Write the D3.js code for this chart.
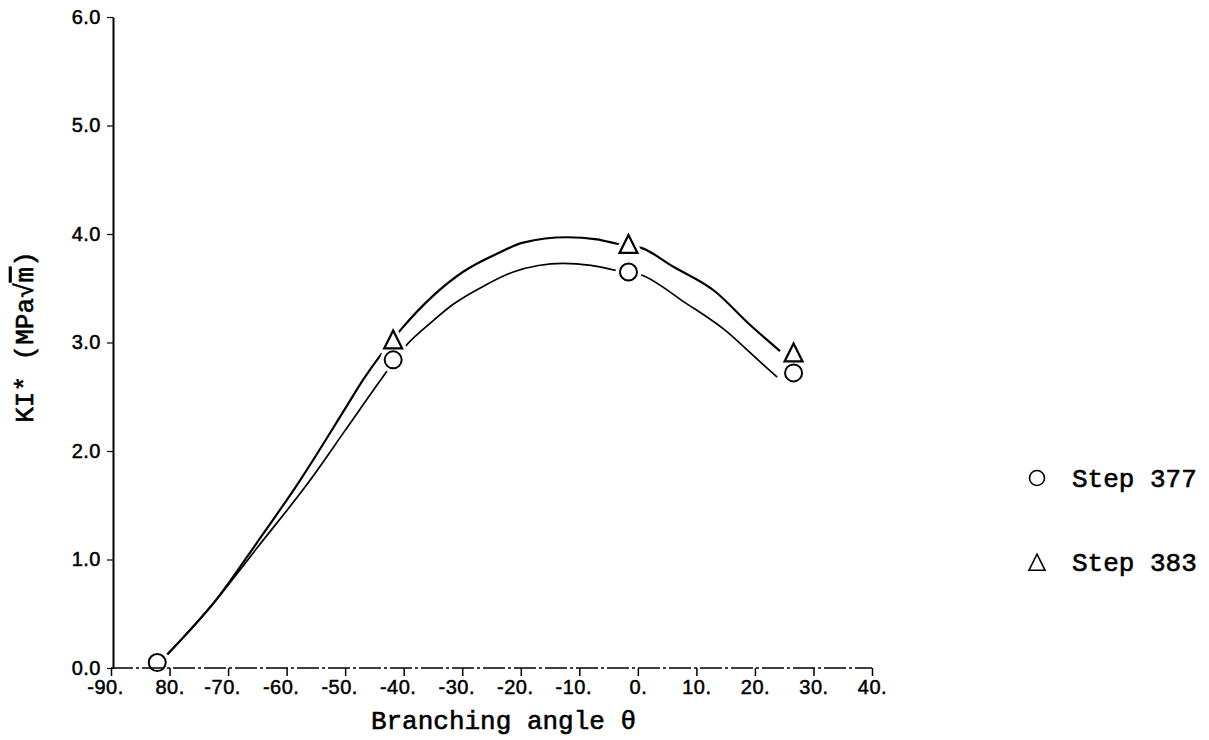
<!DOCTYPE html>
<html>
<head>
<meta charset="utf-8">
<script src="https://cdn.jsdelivr.net/npm/d3@7"></script>
<style>
  html, body { margin: 0; padding: 0; background: #fff; }
  svg { display: block; }
</style>
</head>
<body>
<svg id="chart" width="1209" height="740"></svg>
<script>
// ---- Data ----
const xTicks = [-90, -80, -70, -60, -50, -40, -30, -20, -10, 0, 10, 20, 30, 40];
const xTickLabels = ["-90.", "80.", "-70.", "-60.", "-50.", "-40.", "-30.", "-20.", "-10.", "0.", "10.", "20.", "30.", "40."];
const yTicks = [0, 1, 2, 3, 4, 5, 6];
const yTickLabels = ["0.0", "1.0", "2.0", "3.0", "4.0", "5.0", "6.0"];

// Fitted curves
const curveTheta383 = [-80.5, -72, -65, -57.7, -50, -47, -40.3, -35, -29.9, -24, -19.6, -12.1, -7, -3.6, 0.7, 6, 13.2, 19, 24.3];
const curveKI383    = [0.12, 0.63, 1.16, 1.73, 2.39, 2.65, 3.13, 3.43, 3.65, 3.82, 3.92, 3.97, 3.95, 3.91, 3.87, 3.70, 3.47, 3.17, 2.92];
const curveTheta377 = [-80.4, -72, -65, -56, -50, -44, -39.8, -35, -31.6, -26, -21.3, -17, -12.8, -8, -4.2, 0.7, 8, 15.2, 19.5, 23.8];
const curveKI377    = [0.12, 0.63, 1.11, 1.73, 2.19, 2.65, 2.96, 3.20, 3.35, 3.53, 3.65, 3.71, 3.73, 3.71, 3.67, 3.62, 3.37, 3.10, 2.89, 2.68];

// Data points (markers)
const pointTheta377 = [-82.1, -41.8, -1.6, 26.6];
const pointKI377    = [0.05, 2.84, 3.65, 2.72];
const pointTheta383 = [-41.8, -1.6, 26.6];
const pointKI383    = [3.02, 3.90, 2.90];

const legendLabels = ["Step 377", "Step 383"];

// ---- Layout ----
const svg = d3.select("#chart");
const x = d3.scaleLinear().domain([-90, 40]).range([111, 872]);
const y = d3.scaleLinear().domain([0, 6]).range([668, 17]);

const tickFont = "'Liberation Sans', Arial, sans-serif";
const monoFont = "'Liberation Mono', 'DejaVu Sans Mono', monospace";

function triPath(s) {
  const h = s;
  return `M0,${-h * 0.55}L${s / 2},${h * 0.45}L${-s / 2},${h * 0.45}Z`;
}

// ---- Curves ----
const line = d3.line()
  .x(d => x(d[0]))
  .y(d => y(d[1]))
  .curve(d3.curveMonotoneX);

const c383 = curveTheta383.map((t, i) => [t, curveKI383[i]]);
const c377 = curveTheta377.map((t, i) => [t, curveKI377[i]]);

svg.append("path").datum(c383)
  .attr("d", line).attr("fill", "none").attr("stroke", "#000").attr("stroke-width", 2.2);
svg.append("path").datum(c377)
  .attr("d", line).attr("fill", "none").attr("stroke", "#000").attr("stroke-width", 1.7);

// ---- Markers ----
const p377 = pointTheta377.map((t, i) => [t, pointKI377[i]]);
const p383 = pointTheta383.map((t, i) => [t, pointKI383[i]]);

// halos
svg.append("g").selectAll("circle").data(p377).join("circle")
  .attr("cx", d => x(d[0])).attr("cy", d => y(d[1])).attr("r", 8.5)
  .attr("fill", "#fff").attr("stroke", "#fff").attr("stroke-width", 9);
svg.append("g").selectAll("path").data(p383).join("path")
  .attr("transform", d => `translate(${x(d[0])},${y(d[1])})`)
  .attr("d", triPath(18))
  .attr("fill", "#fff").attr("stroke", "#fff").attr("stroke-width", 9);

// markers
svg.append("g").selectAll("circle").data(p377).join("circle")
  .attr("cx", d => x(d[0])).attr("cy", d => y(d[1])).attr("r", 8.5)
  .attr("fill", "#fff").attr("stroke", "#000").attr("stroke-width", 2);
svg.append("g").selectAll("path").data(p383).join("path")
  .attr("transform", d => `translate(${x(d[0])},${y(d[1])})`)
  .attr("d", triPath(18))
  .attr("fill", "#fff").attr("stroke", "#000").attr("stroke-width", 2.2)
  .attr("stroke-linejoin", "miter");

// ---- Axes ----
// Y axis
const yAxis = d3.axisLeft(y)
  .tickValues(yTicks)
  .tickFormat((d, i) => yTickLabels[i])
  .tickSize(6).tickSizeOuter(0).tickPadding(6);
const gy = svg.append("g").attr("transform", "translate(113,0)").call(yAxis);
gy.select(".domain").attr("stroke", "#000").attr("stroke-width", 2);
gy.selectAll(".tick line").attr("stroke", "#000").attr("stroke-width", 1.2);
gy.selectAll(".tick text")
  .attr("font-family", tickFont).attr("font-size", 20)
  .attr("letter-spacing", 0.5).attr("fill", "#000")
  .attr("stroke", "#000").attr("stroke-width", 0.5);

// X axis: dash-dot baseline
svg.append("line")
  .attr("x1", x(-90)).attr("x2", x(40))
  .attr("y1", y(0)).attr("y2", y(0))
  .attr("stroke", "#000").attr("stroke-width", 1.3)
  .attr("stroke-dasharray", "22,3,3,3");

const xAxis = d3.axisBottom(x)
  .tickValues(xTicks)
  .tickFormat((d, i) => xTickLabels[i])
  .tickSize(8).tickSizeOuter(0).tickPadding(4);
const gx = svg.append("g").attr("transform", `translate(0,${y(0)})`).call(xAxis);
gx.select(".domain").remove();
gx.selectAll(".tick line").attr("stroke", "#000").attr("stroke-width", 1.5);
gx.selectAll(".tick text")
  .attr("font-family", tickFont).attr("font-size", 20)
  .attr("letter-spacing", 0.5).attr("fill", "#000")
  .attr("stroke", "#000").attr("stroke-width", 0.5)
  .attr("dx", (d, i) => xTickLabels[i].startsWith("-") ? -6 : 0);

// ---- Axis titles ----
svg.append("text")
  .attr("x", (x(-90) + x(40)) / 2 + 12).attr("y", 729)
  .attr("text-anchor", "middle")
  .attr("font-family", monoFont).attr("font-size", 26).attr("fill", "#000")
  .attr("stroke", "#000").attr("stroke-width", 0.6)
  .text("Branching angle θ");

const yt = svg.append("text")
  .attr("transform", "translate(33,337) rotate(-90)")
  .attr("text-anchor", "middle")
  .attr("font-family", monoFont).attr("font-size", 26).attr("fill", "#000")
  .attr("stroke", "#000").attr("stroke-width", 0.6);
yt.append("tspan").text("KI* (MPa√");
yt.append("tspan").attr("text-decoration", "overline").style("text-decoration", "overline").text("m");
yt.append("tspan").text(")");

// ---- Legend ----
const lg = svg.append("g");
lg.append("circle").attr("cx", 1037).attr("cy", 478).attr("r", 7.5)
  .attr("fill", "#fff").attr("stroke", "#000").attr("stroke-width", 1.6);
lg.append("path").attr("transform", "translate(1037,563)").attr("d", triPath(16))
  .attr("fill", "#fff").attr("stroke", "#000").attr("stroke-width", 1.6);
lg.selectAll("text").data(legendLabels).join("text")
  .attr("x", 1072).attr("y", (d, i) => 487 + i * 84)
  .attr("font-family", monoFont).attr("font-size", 26).attr("fill", "#000")
  .attr("stroke", "#000").attr("stroke-width", 0.6)
  .text(d => d);
</script>
</body>
</html>
